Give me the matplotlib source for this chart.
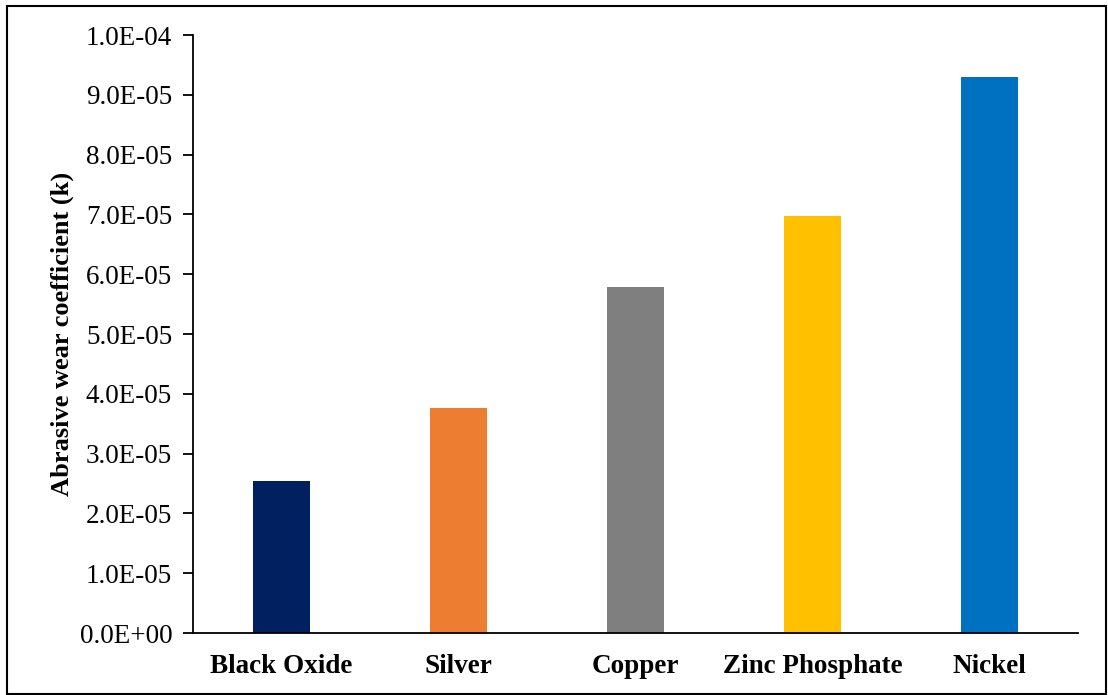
import matplotlib
matplotlib.use("Agg")
import matplotlib.pyplot as plt
from matplotlib.ticker import FuncFormatter, MultipleLocator
from matplotlib.patches import Rectangle

# Abrasive wear coefficient for each coating
coatings = ["Black Oxide", "Silver", "Copper", "Zinc Phosphate", "Nickel"]
wear_k = [2.55e-05, 3.77e-05, 5.79e-05, 6.97e-05, 9.30e-05]
bar_colors = ["#002060", "#ED7D31", "#7F7F7F", "#FFC000", "#0070C0"]

plt.rcParams["font.family"] = ["Liberation Serif", "DejaVu Serif"]

fig = plt.figure(figsize=(11.08, 6.95), dpi=100)
ax = fig.add_axes([0.1742, 0.0892, 0.7987, 0.8604])

x = range(len(coatings))
ax.bar(x, wear_k, width=0.32, color=bar_colors)

ax.set_xlim(-0.5, len(coatings) - 0.5)
ax.set_ylim(0, 1.0e-04)
ax.yaxis.set_major_locator(MultipleLocator(1.0e-05))


def sci_fmt(v, pos):
    s = "%.1E" % v
    mant, exp = s.split("E")
    sign = exp[0]
    return "%sE%s%02d" % (mant, sign, abs(int(exp)))


ax.yaxis.set_major_formatter(FuncFormatter(sci_fmt))
ax.set_xticks(list(x))
ax.set_xticklabels(coatings, fontsize=19.5, fontweight="bold")
ax.tick_params(axis="x", length=0, pad=15)
ax.tick_params(axis="y", direction="out", length=7, width=1.3, labelsize=19.5, pad=8)

for side in ["top", "right"]:
    ax.spines[side].set_visible(False)
for side in ["left", "bottom"]:
    ax.spines[side].set_linewidth(1.3)

ax.set_ylabel("Abrasive wear coefficient (k)", fontsize=19, fontweight="bold", labelpad=4)

# outer frame around the whole figure
fig.patches.append(Rectangle((0.006, 0.002), 0.992, 0.989, transform=fig.transFigure,
                             fill=False, edgecolor="black", linewidth=1.5))

fig.savefig("out.png", dpi=100)
